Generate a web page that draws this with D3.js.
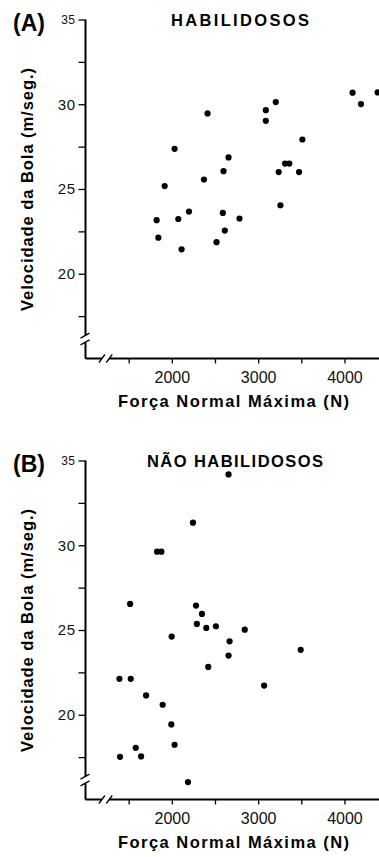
<!DOCTYPE html>
<html>
<head>
<meta charset="utf-8">
<script src="https://cdn.jsdelivr.net/npm/d3@7"></script>
<style>
  body { margin: 0; background: #fff; }
  svg { display: block; font-family: "Liberation Sans", Arial, sans-serif; }
</style>
</head>
<body>
<script>
// Força normal máxima (N) vs velocidade da bola (m/seg.)
const skilledForce = [1917, 2032, 2372, 2414, 2599, 2657, 3089, 3089, 3204, 3238, 3312, 3361, 3474, 3512, 4094, 4191, 4384,
  1824, 1844, 2075, 2199, 2113, 2518, 2591, 2614, 2784, 3258];
const skilledSpeed = [25.17, 27.37, 25.56, 29.46, 26.05, 26.86, 29.65, 29.02, 30.13, 26.0, 26.5, 26.5, 26.0, 27.92, 30.68, 30.01, 30.7,
  23.16, 22.13, 23.23, 23.67, 21.44, 21.86, 23.59, 22.55, 23.26, 24.04];

const unskilledForce = [2657, 2245, 1829, 1879, 1517, 2280, 2349, 2290, 2399, 2511, 1998, 2845, 2669, 2657, 2422, 3493, 3069,
  1393, 1524, 1702, 1894, 1994, 2032, 1582, 1400, 1644, 2187];
const unskilledSpeed = [34.18, 31.33, 29.62, 29.62, 26.54, 26.44, 25.95, 25.36, 25.12, 25.22, 24.61, 25.02, 24.33, 23.49, 22.82, 23.83, 21.72,
  22.12, 22.12, 21.14, 20.59, 19.43, 18.23, 18.05, 17.52, 17.54, 16.03];

const xTicks = [1500, 2000, 2500, 3000, 3500, 4000];
const yTicks = [17.5, 20, 22.5, 25, 27.5, 30, 32.5, 35];

const panels = [
  { tag: "(A)", title: "HABILIDOSOS", titleX: 240, titleW: 138, force: skilledForce, speed: skilledSpeed, top: 19.5 },
  { tag: "(B)", title: "NÃO HABILIDOSOS", titleX: 235, titleW: 176, force: unskilledForce, speed: unskilledSpeed, top: 460.5 }
];

const width = 379, height = 857, plotH = 339;

const svg = d3.select("body").append("svg")
  .attr("width", width)
  .attr("height", height);

const x = d3.scaleLinear().domain([1000, 4400]).range([85.5, 379]);

panels.forEach((p) => {
  const y = d3.scaleLinear().domain([15, 35]).range([p.top + plotH, p.top]);
  const g = svg.append("g");
  const ax = x(1000), ay = y(15);

  // y axis
  const yAxis = g.append("g")
    .attr("transform", `translate(${ax},0)`)
    .call(d3.axisLeft(y).tickValues(yTicks).tickSize(7).tickPadding(3)
      .tickFormat((d) => (d % 5 === 0 ? d : "")));
  yAxis.select(".domain").remove();
  yAxis.selectAll(".tick line").attr("stroke-width", 1.3);
  yAxis.selectAll(".tick text")
    .attr("fill", "#111")
    .attr("font-size", (d) => (d === 35 ? 12 : 15))
    .attr("letter-spacing", 0.5);

  // x axis
  const xAxis = g.append("g")
    .attr("transform", `translate(0,${ay})`)
    .call(d3.axisBottom(x).tickValues(xTicks).tickSize(5).tickPadding(8)
      .tickFormat((d) => (d % 1000 === 0 ? d : "")));
  xAxis.select(".domain").remove();
  xAxis.selectAll(".tick line").attr("stroke-width", 1.3);
  xAxis.selectAll(".tick text").attr("fill", "#111").attr("font-size", 16);

  // axis lines with breaks
  const yb = [y(16.35), y(15.95)];
  const xb = [x(1190), x(1275)];
  const axisLine = g.append("g").attr("stroke", "#000").attr("stroke-width", 2).attr("fill", "none");
  axisLine.append("line").attr("x1", ax).attr("x2", ax).attr("y1", p.top).attr("y2", yb[0]);
  axisLine.append("line").attr("x1", ax).attr("x2", ax).attr("y1", yb[1]).attr("y2", ay);
  axisLine.append("line").attr("x1", ax).attr("x2", xb[0]).attr("y1", ay).attr("y2", ay);
  axisLine.append("line").attr("x1", xb[1]).attr("x2", width).attr("y1", ay).attr("y2", ay);
  yb.forEach((v) => {
    axisLine.append("line").attr("stroke-width", 1.3)
      .attr("x1", ax - 5).attr("y1", v + 2.5).attr("x2", ax + 4).attr("y2", v - 2.5);
  });
  xb.forEach((v) => {
    axisLine.append("line").attr("stroke-width", 1.3)
      .attr("x1", v - 3).attr("y1", ay + 4).attr("x2", v + 3).attr("y2", ay - 4);
  });

  // points
  g.append("g")
    .selectAll("circle")
    .data(p.force.map((f, i) => [f, p.speed[i]]))
    .join("circle")
    .attr("cx", (d) => x(d[0]))
    .attr("cy", (d) => y(d[1]))
    .attr("r", 3.1)
    .attr("fill", "#000");

  // labels
  g.append("text")
    .attr("x", 13).attr("y", p.top + 11)
    .attr("font-size", 23).attr("font-weight", "bold")
    .text(p.tag);

  g.append("text")
    .attr("x", p.titleX).attr("y", p.top + 6)
    .attr("text-anchor", "middle")
    .attr("font-size", 16.5).attr("font-weight", "bold")
    .attr("textLength", p.titleW).attr("lengthAdjust", "spacing")
    .text(p.title);

  g.append("text")
    .attr("transform", `translate(33,${p.top + 170}) rotate(-90)`)
    .attr("text-anchor", "middle")
    .attr("font-size", 16.5).attr("font-weight", "bold")
    .attr("textLength", 243).attr("lengthAdjust", "spacing")
    .text("Velocidade da Bola (m/seg.)");

  g.append("text")
    .attr("x", 233.5).attr("y", ay + 48)
    .attr("text-anchor", "middle")
    .attr("font-size", 16.5).attr("font-weight", "bold")
    .attr("textLength", 231).attr("lengthAdjust", "spacing")
    .text("Força Normal Máxima (N)");
});
</script>
</body>
</html>
